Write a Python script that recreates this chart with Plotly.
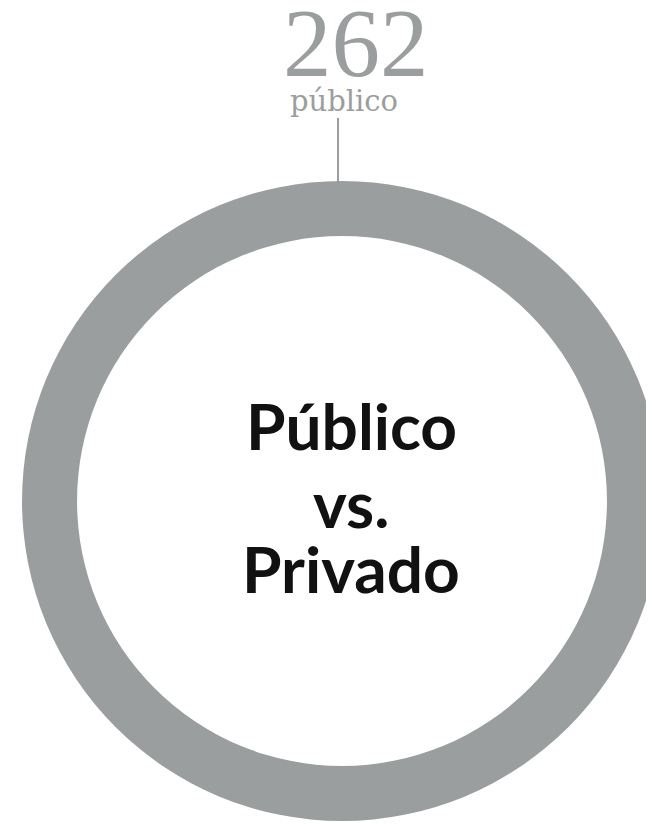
import plotly.graph_objects as go

W, H = 654, 824

# data
labels = ["público"]
values = [262]
title_lines = ["Público", "vs.", "Privado"]

gray = "#9b9e9e"

fig = go.Figure()
fig.add_trace(go.Pie(
    labels=labels,
    values=values,
    hole=0.828,
    sort=False,
    textinfo="none",
    hoverinfo="label+value",
    marker=dict(colors=[gray], line=dict(width=0)),
    domain=dict(x=[14 / W, 1], y=[10 / H, 652 / H]),
    showlegend=False,
))

# value label above the ring
fig.add_annotation(x=348 / W, y=1 - 35 / H, xref="paper", yref="paper",
                   text=str(values[0]), showarrow=False,
                   xanchor="center", yanchor="middle",
                   font=dict(family="Liberation Serif", size=97, color=gray))
fig.add_annotation(x=336 / W, y=1 - 93 / H, xref="paper", yref="paper",
                   text=labels[0], showarrow=False,
                   xanchor="center", yanchor="middle",
                   font=dict(family="DejaVu Serif", size=29, color=gray))
# connector line
fig.add_shape(type="line", xref="paper", yref="paper",
              x0=330 / W, x1=330 / W, y0=1 - 110 / H, y1=1 - 176 / H,
              line=dict(color=gray, width=2))

# center title
for txt, yc in zip(title_lines, [417, 495, 560]):
    fig.add_annotation(x=343 / W, y=1 - yc / H, xref="paper", yref="paper",
                       text="<b>%s</b>" % txt, showarrow=False,
                       xanchor="center", yanchor="middle",
                       font=dict(family="Lato", size=64, color="#111111"))

fig.update_layout(width=W, height=H, margin=dict(l=0, r=0, t=0, b=0),
                  paper_bgcolor="white", plot_bgcolor="white")

fig.write_html("out.html")
